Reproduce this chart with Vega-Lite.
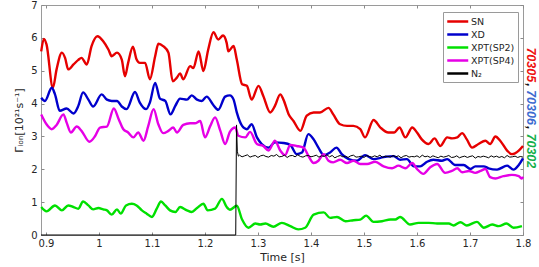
{
"$schema": "https://vega.github.io/schema/vega-lite/v6.json",
"width": 482, "height": 230,
"autosize": {"type": "none"},
"padding": {"left": 41, "top": 5, "right": 16, "bottom": 32},
"background": "white",
"config": {
  "view": {"stroke": "#9a9a9a", "strokeWidth": 1},
  "font": "DejaVu Sans",
  "axis": {"domain": false, "grid": false, "tickColor": "#8a8a8a", "tickSize": -3, "labelColor": "#262626", "labelFontSize": 10, "titleColor": "#262626", "titleFontSize": 11, "titleFontWeight": "normal", "labelFlush": false, "labelOverlap": false}
},
"datasets": {
"series": [
{"s":"SN","t":0.891,"v":5.59},{"s":"SN","t":0.896,"v":5.97},{"s":"SN","t":0.901,"v":5.80},{"s":"SN","t":0.913,"v":4.48},{"s":"SN","t":0.920,"v":5.04},{"s":"SN","t":0.930,"v":5.55},{"s":"SN","t":0.936,"v":5.39},{"s":"SN","t":0.942,"v":5.04},{"s":"SN","t":0.952,"v":5.19},{"s":"SN","t":0.961,"v":5.33},{"s":"SN","t":0.967,"v":5.39},{"s":"SN","t":0.977,"v":5.19},{"s":"SN","t":0.986,"v":5.75},{"s":"SN","t":0.997,"v":6.05},{"s":"SN","t":1.008,"v":5.90},{"s":"SN","t":1.018,"v":5.64},{"s":"SN","t":1.024,"v":5.44},{"s":"SN","t":1.034,"v":5.55},{"s":"SN","t":1.043,"v":5.34},{"s":"SN","t":1.049,"v":4.83},{"s":"SN","t":1.055,"v":5.24},{"s":"SN","t":1.064,"v":5.73},{"s":"SN","t":1.071,"v":5.34},{"s":"SN","t":1.077,"v":5.24},{"s":"SN","t":1.087,"v":5.24},{"s":"SN","t":1.096,"v":4.74},{"s":"SN","t":1.106,"v":5.44},{"s":"SN","t":1.112,"v":5.82},{"s":"SN","t":1.121,"v":5.75},{"s":"SN","t":1.131,"v":5.55},{"s":"SN","t":1.139,"v":4.68},{"s":"SN","t":1.147,"v":4.79},{"s":"SN","t":1.153,"v":4.92},{"s":"SN","t":1.159,"v":4.74},{"s":"SN","t":1.172,"v":5.14},{"s":"SN","t":1.178,"v":5.08},{"s":"SN","t":1.188,"v":5.59},{"s":"SN","t":1.197,"v":4.99},{"s":"SN","t":1.206,"v":5.64},{"s":"SN","t":1.216,"v":6.17},{"s":"SN","t":1.225,"v":5.95},{"s":"SN","t":1.234,"v":6.07},{"s":"SN","t":1.241,"v":5.84},{"s":"SN","t":1.244,"v":5.59},{"s":"SN","t":1.254,"v":5.75},{"s":"SN","t":1.260,"v":5.34},{"s":"SN","t":1.270,"v":4.59},{"s":"SN","t":1.279,"v":4.54},{"s":"SN","t":1.288,"v":4.12},{"s":"SN","t":1.301,"v":4.54},{"s":"SN","t":1.310,"v":4.23},{"s":"SN","t":1.323,"v":3.73},{"s":"SN","t":1.332,"v":3.93},{"s":"SN","t":1.342,"v":4.28},{"s":"SN","t":1.348,"v":4.12},{"s":"SN","t":1.358,"v":3.67},{"s":"SN","t":1.367,"v":3.47},{"s":"SN","t":1.380,"v":3.17},{"s":"SN","t":1.392,"v":3.63},{"s":"SN","t":1.405,"v":3.73},{"s":"SN","t":1.417,"v":3.73},{"s":"SN","t":1.433,"v":3.87},{"s":"SN","t":1.442,"v":3.67},{"s":"SN","t":1.455,"v":3.37},{"s":"SN","t":1.468,"v":3.32},{"s":"SN","t":1.480,"v":3.32},{"s":"SN","t":1.493,"v":3.22},{"s":"SN","t":1.502,"v":2.97},{"s":"SN","t":1.518,"v":3.50},{"s":"SN","t":1.531,"v":3.27},{"s":"SN","t":1.546,"v":3.12},{"s":"SN","t":1.557,"v":3.12},{"s":"SN","t":1.567,"v":3.27},{"s":"SN","t":1.578,"v":2.97},{"s":"SN","t":1.591,"v":3.27},{"s":"SN","t":1.600,"v":3.12},{"s":"SN","t":1.609,"v":2.91},{"s":"SN","t":1.622,"v":2.77},{"s":"SN","t":1.633,"v":2.94},{"s":"SN","t":1.644,"v":2.71},{"s":"SN","t":1.657,"v":2.97},{"s":"SN","t":1.666,"v":2.94},{"s":"SN","t":1.676,"v":2.97},{"s":"SN","t":1.685,"v":3.10},{"s":"SN","t":1.694,"v":2.91},{"s":"SN","t":1.704,"v":2.66},{"s":"SN","t":1.716,"v":2.77},{"s":"SN","t":1.729,"v":2.87},{"s":"SN","t":1.738,"v":2.77},{"s":"SN","t":1.748,"v":3.00},{"s":"SN","t":1.757,"v":2.87},{"s":"SN","t":1.770,"v":2.57},{"s":"SN","t":1.779,"v":2.46},{"s":"SN","t":1.792,"v":2.57},{"s":"SN","t":1.800,"v":2.71},
{"s":"XD","t":0.891,"v":4.18},{"s":"XD","t":0.898,"v":4.08},{"s":"XD","t":0.911,"v":4.48},{"s":"XD","t":0.917,"v":4.28},{"s":"XD","t":0.926,"v":3.78},{"s":"XD","t":0.939,"v":3.85},{"s":"XD","t":0.952,"v":3.70},{"s":"XD","t":0.961,"v":3.93},{"s":"XD","t":0.970,"v":4.34},{"s":"XD","t":0.980,"v":4.12},{"s":"XD","t":0.989,"v":3.91},{"s":"XD","t":1.005,"v":4.28},{"s":"XD","t":1.015,"v":4.12},{"s":"XD","t":1.024,"v":4.08},{"s":"XD","t":1.034,"v":4.08},{"s":"XD","t":1.043,"v":3.91},{"s":"XD","t":1.052,"v":3.83},{"s":"XD","t":1.068,"v":4.35},{"s":"XD","t":1.077,"v":4.03},{"s":"XD","t":1.089,"v":3.83},{"s":"XD","t":1.096,"v":4.03},{"s":"XD","t":1.106,"v":4.63},{"s":"XD","t":1.115,"v":4.15},{"s":"XD","t":1.125,"v":4.08},{"s":"XD","t":1.135,"v":3.67},{"s":"XD","t":1.144,"v":3.93},{"s":"XD","t":1.153,"v":4.15},{"s":"XD","t":1.166,"v":4.12},{"s":"XD","t":1.175,"v":4.25},{"s":"XD","t":1.185,"v":4.12},{"s":"XD","t":1.194,"v":4.08},{"s":"XD","t":1.203,"v":4.21},{"s":"XD","t":1.216,"v":3.95},{"s":"XD","t":1.225,"v":3.81},{"s":"XD","t":1.238,"v":4.21},{"s":"XD","t":1.247,"v":4.25},{"s":"XD","t":1.254,"v":4.12},{"s":"XD","t":1.260,"v":3.73},{"s":"XD","t":1.270,"v":3.32},{"s":"XD","t":1.279,"v":3.22},{"s":"XD","t":1.288,"v":3.37},{"s":"XD","t":1.298,"v":2.97},{"s":"XD","t":1.307,"v":2.77},{"s":"XD","t":1.320,"v":2.66},{"s":"XD","t":1.332,"v":2.82},{"s":"XD","t":1.348,"v":2.80},{"s":"XD","t":1.361,"v":2.74},{"s":"XD","t":1.373,"v":2.46},{"s":"XD","t":1.383,"v":2.51},{"s":"XD","t":1.395,"v":3.07},{"s":"XD","t":1.405,"v":2.91},{"s":"XD","t":1.414,"v":2.66},{"s":"XD","t":1.424,"v":2.43},{"s":"XD","t":1.436,"v":2.51},{"s":"XD","t":1.448,"v":2.66},{"s":"XD","t":1.458,"v":2.46},{"s":"XD","t":1.471,"v":2.31},{"s":"XD","t":1.487,"v":2.26},{"s":"XD","t":1.502,"v":2.43},{"s":"XD","t":1.518,"v":2.31},{"s":"XD","t":1.537,"v":2.37},{"s":"XD","t":1.556,"v":2.40},{"s":"XD","t":1.568,"v":2.29},{"s":"XD","t":1.581,"v":2.31},{"s":"XD","t":1.594,"v":2.09},{"s":"XD","t":1.606,"v":2.09},{"s":"XD","t":1.619,"v":2.23},{"s":"XD","t":1.631,"v":2.29},{"s":"XD","t":1.647,"v":2.26},{"s":"XD","t":1.657,"v":2.31},{"s":"XD","t":1.672,"v":2.13},{"s":"XD","t":1.688,"v":2.13},{"s":"XD","t":1.701,"v":2.01},{"s":"XD","t":1.710,"v":2.09},{"s":"XD","t":1.726,"v":2.09},{"s":"XD","t":1.735,"v":2.03},{"s":"XD","t":1.751,"v":1.99},{"s":"XD","t":1.770,"v":2.11},{"s":"XD","t":1.782,"v":1.99},{"s":"XD","t":1.792,"v":2.13},{"s":"XD","t":1.800,"v":2.33},
{"s":"XPT(SP2)","t":0.891,"v":0.85},{"s":"XPT(SP2)","t":0.901,"v":0.72},{"s":"XPT(SP2)","t":0.917,"v":0.90},{"s":"XPT(SP2)","t":0.930,"v":0.75},{"s":"XPT(SP2)","t":0.942,"v":0.90},{"s":"XPT(SP2)","t":0.952,"v":0.85},{"s":"XPT(SP2)","t":0.961,"v":0.80},{"s":"XPT(SP2)","t":0.970,"v":1.02},{"s":"XPT(SP2)","t":0.980,"v":0.90},{"s":"XPT(SP2)","t":0.989,"v":0.78},{"s":"XPT(SP2)","t":0.999,"v":0.82},{"s":"XPT(SP2)","t":1.008,"v":0.78},{"s":"XPT(SP2)","t":1.015,"v":0.75},{"s":"XPT(SP2)","t":1.024,"v":0.62},{"s":"XPT(SP2)","t":1.034,"v":0.78},{"s":"XPT(SP2)","t":1.041,"v":0.65},{"s":"XPT(SP2)","t":1.051,"v":0.90},{"s":"XPT(SP2)","t":1.062,"v":0.95},{"s":"XPT(SP2)","t":1.071,"v":0.90},{"s":"XPT(SP2)","t":1.081,"v":0.75},{"s":"XPT(SP2)","t":1.090,"v":0.65},{"s":"XPT(SP2)","t":1.100,"v":0.55},{"s":"XPT(SP2)","t":1.109,"v":0.80},{"s":"XPT(SP2)","t":1.117,"v":1.02},{"s":"XPT(SP2)","t":1.125,"v":0.90},{"s":"XPT(SP2)","t":1.134,"v":0.75},{"s":"XPT(SP2)","t":1.144,"v":0.70},{"s":"XPT(SP2)","t":1.153,"v":0.85},{"s":"XPT(SP2)","t":1.166,"v":0.75},{"s":"XPT(SP2)","t":1.175,"v":0.70},{"s":"XPT(SP2)","t":1.185,"v":0.82},{"s":"XPT(SP2)","t":1.197,"v":0.95},{"s":"XPT(SP2)","t":1.205,"v":0.75},{"s":"XPT(SP2)","t":1.219,"v":0.80},{"s":"XPT(SP2)","t":1.232,"v":1.10},{"s":"XPT(SP2)","t":1.241,"v":0.85},{"s":"XPT(SP2)","t":1.247,"v":0.77},{"s":"XPT(SP2)","t":1.260,"v":0.89},{"s":"XPT(SP2)","t":1.270,"v":0.47},{"s":"XPT(SP2)","t":1.282,"v":0.22},{"s":"XPT(SP2)","t":1.295,"v":0.35},{"s":"XPT(SP2)","t":1.304,"v":0.32},{"s":"XPT(SP2)","t":1.314,"v":0.35},{"s":"XPT(SP2)","t":1.329,"v":0.25},{"s":"XPT(SP2)","t":1.345,"v":0.37},{"s":"XPT(SP2)","t":1.361,"v":0.27},{"s":"XPT(SP2)","t":1.376,"v":0.17},{"s":"XPT(SP2)","t":1.389,"v":0.22},{"s":"XPT(SP2)","t":1.405,"v":0.62},{"s":"XPT(SP2)","t":1.424,"v":0.69},{"s":"XPT(SP2)","t":1.436,"v":0.52},{"s":"XPT(SP2)","t":1.449,"v":0.55},{"s":"XPT(SP2)","t":1.465,"v":0.42},{"s":"XPT(SP2)","t":1.480,"v":0.45},{"s":"XPT(SP2)","t":1.493,"v":0.47},{"s":"XPT(SP2)","t":1.504,"v":0.59},{"s":"XPT(SP2)","t":1.518,"v":0.40},{"s":"XPT(SP2)","t":1.534,"v":0.42},{"s":"XPT(SP2)","t":1.550,"v":0.47},{"s":"XPT(SP2)","t":1.559,"v":0.47},{"s":"XPT(SP2)","t":1.568,"v":0.55},{"s":"XPT(SP2)","t":1.587,"v":0.32},{"s":"XPT(SP2)","t":1.603,"v":0.37},{"s":"XPT(SP2)","t":1.622,"v":0.37},{"s":"XPT(SP2)","t":1.638,"v":0.35},{"s":"XPT(SP2)","t":1.660,"v":0.35},{"s":"XPT(SP2)","t":1.669,"v":0.29},{"s":"XPT(SP2)","t":1.682,"v":0.39},{"s":"XPT(SP2)","t":1.694,"v":0.29},{"s":"XPT(SP2)","t":1.713,"v":0.40},{"s":"XPT(SP2)","t":1.726,"v":0.22},{"s":"XPT(SP2)","t":1.742,"v":0.32},{"s":"XPT(SP2)","t":1.754,"v":0.27},{"s":"XPT(SP2)","t":1.769,"v":0.35},{"s":"XPT(SP2)","t":1.782,"v":0.22},{"s":"XPT(SP2)","t":1.798,"v":0.27},
{"s":"XPT(SP4)","t":0.891,"v":3.67},{"s":"XPT(SP4)","t":0.901,"v":3.37},{"s":"XPT(SP4)","t":0.911,"v":3.22},{"s":"XPT(SP4)","t":0.920,"v":3.35},{"s":"XPT(SP4)","t":0.933,"v":3.67},{"s":"XPT(SP4)","t":0.939,"v":3.42},{"s":"XPT(SP4)","t":0.947,"v":3.12},{"s":"XPT(SP4)","t":0.958,"v":3.30},{"s":"XPT(SP4)","t":0.967,"v":3.17},{"s":"XPT(SP4)","t":0.982,"v":2.84},{"s":"XPT(SP4)","t":0.993,"v":3.02},{"s":"XPT(SP4)","t":1.002,"v":3.27},{"s":"XPT(SP4)","t":1.015,"v":3.30},{"s":"XPT(SP4)","t":1.028,"v":3.85},{"s":"XPT(SP4)","t":1.037,"v":3.53},{"s":"XPT(SP4)","t":1.046,"v":3.22},{"s":"XPT(SP4)","t":1.055,"v":3.12},{"s":"XPT(SP4)","t":1.065,"v":2.97},{"s":"XPT(SP4)","t":1.074,"v":3.12},{"s":"XPT(SP4)","t":1.084,"v":2.87},{"s":"XPT(SP4)","t":1.093,"v":3.32},{"s":"XPT(SP4)","t":1.103,"v":3.83},{"s":"XPT(SP4)","t":1.112,"v":3.37},{"s":"XPT(SP4)","t":1.121,"v":3.10},{"s":"XPT(SP4)","t":1.131,"v":3.17},{"s":"XPT(SP4)","t":1.140,"v":3.27},{"s":"XPT(SP4)","t":1.147,"v":3.12},{"s":"XPT(SP4)","t":1.159,"v":3.35},{"s":"XPT(SP4)","t":1.172,"v":3.40},{"s":"XPT(SP4)","t":1.181,"v":3.40},{"s":"XPT(SP4)","t":1.191,"v":3.47},{"s":"XPT(SP4)","t":1.200,"v":2.97},{"s":"XPT(SP4)","t":1.210,"v":3.32},{"s":"XPT(SP4)","t":1.219,"v":3.58},{"s":"XPT(SP4)","t":1.229,"v":3.17},{"s":"XPT(SP4)","t":1.238,"v":2.77},{"s":"XPT(SP4)","t":1.247,"v":3.14},{"s":"XPT(SP4)","t":1.257,"v":3.27},{"s":"XPT(SP4)","t":1.263,"v":3.02},{"s":"XPT(SP4)","t":1.276,"v":2.97},{"s":"XPT(SP4)","t":1.285,"v":3.14},{"s":"XPT(SP4)","t":1.298,"v":2.77},{"s":"XPT(SP4)","t":1.310,"v":2.71},{"s":"XPT(SP4)","t":1.320,"v":2.57},{"s":"XPT(SP4)","t":1.332,"v":2.87},{"s":"XPT(SP4)","t":1.342,"v":2.57},{"s":"XPT(SP4)","t":1.351,"v":2.43},{"s":"XPT(SP4)","t":1.361,"v":2.74},{"s":"XPT(SP4)","t":1.373,"v":2.71},{"s":"XPT(SP4)","t":1.386,"v":2.66},{"s":"XPT(SP4)","t":1.395,"v":2.41},{"s":"XPT(SP4)","t":1.405,"v":2.19},{"s":"XPT(SP4)","t":1.414,"v":2.26},{"s":"XPT(SP4)","t":1.424,"v":2.46},{"s":"XPT(SP4)","t":1.433,"v":2.26},{"s":"XPT(SP4)","t":1.442,"v":2.21},{"s":"XPT(SP4)","t":1.455,"v":2.29},{"s":"XPT(SP4)","t":1.468,"v":2.19},{"s":"XPT(SP4)","t":1.480,"v":2.26},{"s":"XPT(SP4)","t":1.493,"v":2.16},{"s":"XPT(SP4)","t":1.506,"v":2.16},{"s":"XPT(SP4)","t":1.521,"v":2.23},{"s":"XPT(SP4)","t":1.537,"v":2.09},{"s":"XPT(SP4)","t":1.553,"v":2.03},{"s":"XPT(SP4)","t":1.565,"v":2.11},{"s":"XPT(SP4)","t":1.578,"v":2.03},{"s":"XPT(SP4)","t":1.591,"v":2.19},{"s":"XPT(SP4)","t":1.600,"v":2.01},{"s":"XPT(SP4)","t":1.612,"v":1.86},{"s":"XPT(SP4)","t":1.625,"v":2.06},{"s":"XPT(SP4)","t":1.638,"v":2.16},{"s":"XPT(SP4)","t":1.653,"v":1.89},{"s":"XPT(SP4)","t":1.666,"v":1.95},{"s":"XPT(SP4)","t":1.676,"v":2.03},{"s":"XPT(SP4)","t":1.685,"v":1.91},{"s":"XPT(SP4)","t":1.698,"v":1.95},{"s":"XPT(SP4)","t":1.710,"v":1.89},{"s":"XPT(SP4)","t":1.720,"v":1.95},{"s":"XPT(SP4)","t":1.729,"v":2.01},{"s":"XPT(SP4)","t":1.738,"v":1.76},{"s":"XPT(SP4)","t":1.748,"v":1.72},{"s":"XPT(SP4)","t":1.763,"v":1.79},{"s":"XPT(SP4)","t":1.779,"v":1.83},{"s":"XPT(SP4)","t":1.792,"v":1.79},{"s":"XPT(SP4)","t":1.798,"v":1.72},{"s":"XPT(SP4)","t":1.800,"v":1.77}
],
"n2": [
{"t":0.8906,"v":0},{"t":1.258,"v":0},{"t":1.2595,"v":3.35},{"t":1.261,"v":2.55},{"t":1.263,"v":2.40},
{"t":1.265,"v":2.43},{"t":1.270,"v":2.38},{"t":1.275,"v":2.41},{"t":1.280,"v":2.44},{"t":1.285,"v":2.37},{"t":1.290,"v":2.40},{"t":1.295,"v":2.42},{"t":1.300,"v":2.36},{"t":1.305,"v":2.41},{"t":1.310,"v":2.43},{"t":1.315,"v":2.39},{"t":1.320,"v":2.37},{"t":1.325,"v":2.42},{"t":1.330,"v":2.40},{"t":1.335,"v":2.45},{"t":1.340,"v":2.38},{"t":1.345,"v":2.39},{"t":1.350,"v":2.43},{"t":1.355,"v":2.36},{"t":1.360,"v":2.41},{"t":1.365,"v":2.42},{"t":1.370,"v":2.38},{"t":1.375,"v":2.44},{"t":1.380,"v":2.39},{"t":1.385,"v":2.37},{"t":1.390,"v":2.41},{"t":1.395,"v":2.42},{"t":1.400,"v":2.38},{"t":1.405,"v":2.40},{"t":1.410,"v":2.43},{"t":1.415,"v":2.37},{"t":1.420,"v":2.41},{"t":1.425,"v":2.39},{"t":1.430,"v":2.44},{"t":1.435,"v":2.38},{"t":1.440,"v":2.42},{"t":1.445,"v":2.35},{"t":1.450,"v":2.39},{"t":1.455,"v":2.42},{"t":1.460,"v":2.38},{"t":1.465,"v":2.40},{"t":1.470,"v":2.36},{"t":1.475,"v":2.41},{"t":1.480,"v":2.43},{"t":1.485,"v":2.37},{"t":1.490,"v":2.38},{"t":1.495,"v":2.40},{"t":1.500,"v":2.36},{"t":1.505,"v":2.42},{"t":1.510,"v":2.39},{"t":1.515,"v":2.37},{"t":1.520,"v":2.41},{"t":1.525,"v":2.38},{"t":1.530,"v":2.43},{"t":1.535,"v":2.36},{"t":1.540,"v":2.40},{"t":1.545,"v":2.39},{"t":1.550,"v":2.37},{"t":1.555,"v":2.42},{"t":1.560,"v":2.38},{"t":1.565,"v":2.41},{"t":1.570,"v":2.35},{"t":1.575,"v":2.40},{"t":1.580,"v":2.42},{"t":1.585,"v":2.37},{"t":1.590,"v":2.39},{"t":1.595,"v":2.38},{"t":1.600,"v":2.41},{"t":1.605,"v":2.36},{"t":1.610,"v":2.43},{"t":1.615,"v":2.38},{"t":1.620,"v":2.40},{"t":1.625,"v":2.36},{"t":1.630,"v":2.41},{"t":1.635,"v":2.38},{"t":1.640,"v":2.35},{"t":1.645,"v":2.40},{"t":1.650,"v":2.37},{"t":1.655,"v":2.39},{"t":1.660,"v":2.42},{"t":1.665,"v":2.36},{"t":1.670,"v":2.37},{"t":1.675,"v":2.41},{"t":1.680,"v":2.35},{"t":1.685,"v":2.38},{"t":1.690,"v":2.40},{"t":1.695,"v":2.36},{"t":1.700,"v":2.39},{"t":1.705,"v":2.41},{"t":1.710,"v":2.34},{"t":1.715,"v":2.39},{"t":1.720,"v":2.37},{"t":1.725,"v":2.40},{"t":1.730,"v":2.38},{"t":1.735,"v":2.35},{"t":1.740,"v":2.41},{"t":1.745,"v":2.37},{"t":1.750,"v":2.40},{"t":1.755,"v":2.36},{"t":1.760,"v":2.39},{"t":1.765,"v":2.35},{"t":1.770,"v":2.42},{"t":1.775,"v":2.37},{"t":1.780,"v":2.38},{"t":1.785,"v":2.40},{"t":1.790,"v":2.36},{"t":1.795,"v":2.39},{"t":1.800,"v":2.37}
],
"shots": [
{"label":"70305","t":1.8155,"v":5.71,"c":"a"},
{"label":",","t":1.8155,"v":4.62,"c":"b"},
{"label":"70306","t":1.8155,"v":4.41,"c":"c"},
{"label":",","t":1.8155,"v":3.32,"c":"b"},
{"label":"70302","t":1.8155,"v":3.09,"c":"d"}
]
},
"layer": [
{
  "data": {"name": "series"},
  "mark": {"type": "line", "strokeWidth": 2.4, "interpolate": "monotone"},
  "encoding": {
    "x": {"field": "t", "type": "quantitative", "scale": {"domain": [0.8906, 1.8], "nice": false, "zero": false},
          "axis": {"orient": "bottom", "values": [0.9,1.0,1.1,1.2,1.3,1.4,1.5,1.6,1.7,1.8], "format": "~g", "title": "Time [s]", "labelPadding": 6, "titlePadding": 3}},
    "y": {"field": "v", "type": "quantitative", "scale": {"domain": [0, 7], "nice": false},
          "axis": {"orient": "left", "values": [0,1,2,3,4,5,6,7], "title": "Γᵢₒₙ[10²¹s⁻¹]", "labelPadding": 7, "titlePadding": 6}},
    "color": {"field": "s", "type": "nominal",
      "scale": {"domain": ["SN","XD","XPT(SP2)","XPT(SP4)","N₂"], "range": ["#e60000","#0000cc","#00e000","#e600e6","#000000"]},
      "legend": {"orient": "none", "legendX": 402, "legendY": 7, "title": null, "symbolType": "M-1,0H3", "symbolSize": 110, "symbolStrokeWidth": 2.5, "labelFontSize": 9.5, "labelOffset": 12, "padding": 3, "rowPadding": 1, "strokeColor": "#9a9a9a", "fillColor": "white", "labelColor": "#262626", "labelFont": "DejaVu Sans"}}
  }
},
{
  "data": {"name": "n2"},
  "mark": {"type": "line", "strokeWidth": 1, "color": "#000000"},
  "encoding": {
    "x": {"field": "t", "type": "quantitative", "axis": {"orient": "top", "labels": false, "title": null, "values": [0.9,1.0,1.1,1.2,1.3,1.4,1.5,1.6,1.7,1.8]}},
    "y": {"field": "v", "type": "quantitative", "axis": {"orient": "right", "labels": false, "title": null, "values": [0,1,2,3,4,5,6,7]}}
  }
},
{
  "data": {"name": "shots"},
  "mark": {"type": "text", "angle": 90, "align": "left", "baseline": "middle", "font": "Liberation Sans", "fontSize": 12.5, "fontWeight": "bold", "fontStyle": "italic"},
  "encoding": {
    "x": {"field": "t", "type": "quantitative", "axis": null},
    "y": {"field": "v", "type": "quantitative", "axis": null},
    "text": {"field": "label"},
    "color": {"field": "c", "type": "nominal", "scale": {"domain": ["a","b","c","d"], "range": ["#ee1111","#111111","#3d6bd0","#14b04a"]}, "legend": null}
  }
}
],
"resolve": {"axis": {"x": "independent", "y": "independent"}, "scale": {"color": "independent"}}
}
